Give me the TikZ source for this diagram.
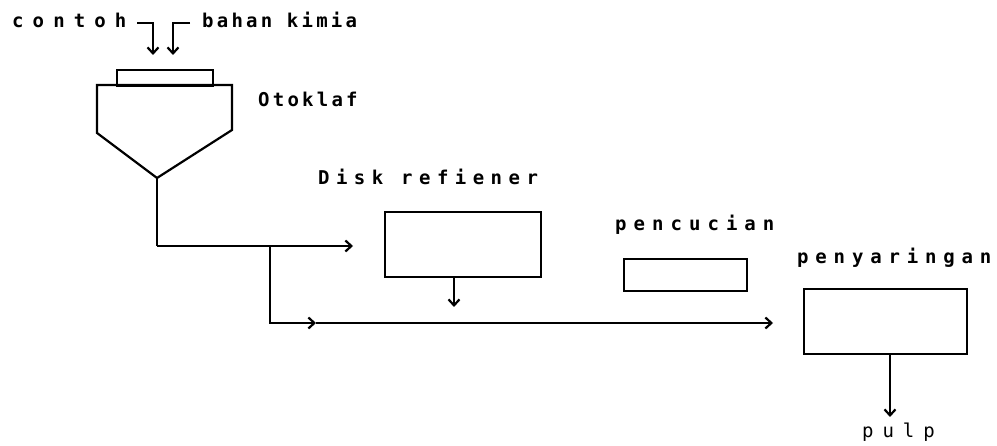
\documentclass[tikz,border=0pt]{standalone}
\usepackage{fontspec}
\setmonofont{DejaVu Sans Mono}
\usetikzlibrary{arrows.meta}
\newcommand\lbl[2]{{\ttfamily\addfontfeature{LetterSpace=#1}#2}}
\tikzset{
  pipe/.style={line width=2.2pt},
  flow/.style={line width=2.2pt,-{Straight Barb[length=6pt,width=11pt,line width=2.2pt]}},
  unit/.style={draw,line width=2.2pt,inner sep=0pt,anchor=north west},
  txt/.style={anchor=base west,inner sep=0pt,font=\fontsize{19}{21}\selectfont\bfseries}
}
\begin{document}
\begin{tikzpicture}[x=1pt,y=-1pt]
\useasboundingbox (0,0) rectangle (997,446);
% labels
\node[txt] (tcontoh) at (12,28) {\lbl{48}{contoh}};
\node[txt] (tbahan) at (202,28) {\lbl{17}{bahan kimia}};
\node[txt] (totok) at (258,107) {\lbl{17}{Otoklaf}};
\node[txt] (tdisk) at (318,185) {\lbl{34}{Disk refiener}};
\node[txt] (tcuci) at (615,231) {\lbl{37}{pencucian}};
\node[txt] (tsaring) at (797,264) {\lbl{36}{penyaringan}};
\node[txt,font=\fontsize{19}{21}\selectfont] (tpulp) at (862,438) {\lbl{47}{pulp}};
% otoklaf
\node[unit,minimum width=96pt,minimum height=16pt] (lid) at (116,69) {};
\coordinate (apex) at (157,178);
\draw[pipe,line join=miter] (97,85) -- (97,133) -- (apex) -- (232,130) -- (232,85) -- cycle;
% inputs
\coordinate (c1) at (137,23);
\coordinate (c2) at (190,23);
\draw[flow] (c1) -- (153,23) -- (153,55);
\draw[flow] (c2) -- (173,23) -- (173,55);
% units
\node[unit,minimum width=156pt,minimum height=65pt] (disk) at (384,211) {};
\node[unit,minimum width=123pt,minimum height=32pt] (cuci) at (623,258) {};
\node[unit,minimum width=163pt,minimum height=65pt] (saring) at (803,288) {};
% flows
\coordinate (j1) at (157,246);
\coordinate (j2) at (270,246);
\coordinate (j3) at (270,323);
\coordinate (a1) at (353,246);
\coordinate (a2) at (316,323);
\coordinate (a3) at (773,323);
\draw[pipe] (apex) -- (j1);
\draw[flow] (j1) -- (a1);
\draw[flow] (j2) -- (j3) -- (a2);
\draw[flow] (a2) -- (a3);
\draw[flow] (disk.south -| 454,0) -- (454,307);
\draw[flow] (saring.south -| 890,0) -- (890,417);
\end{tikzpicture}
\end{document}
